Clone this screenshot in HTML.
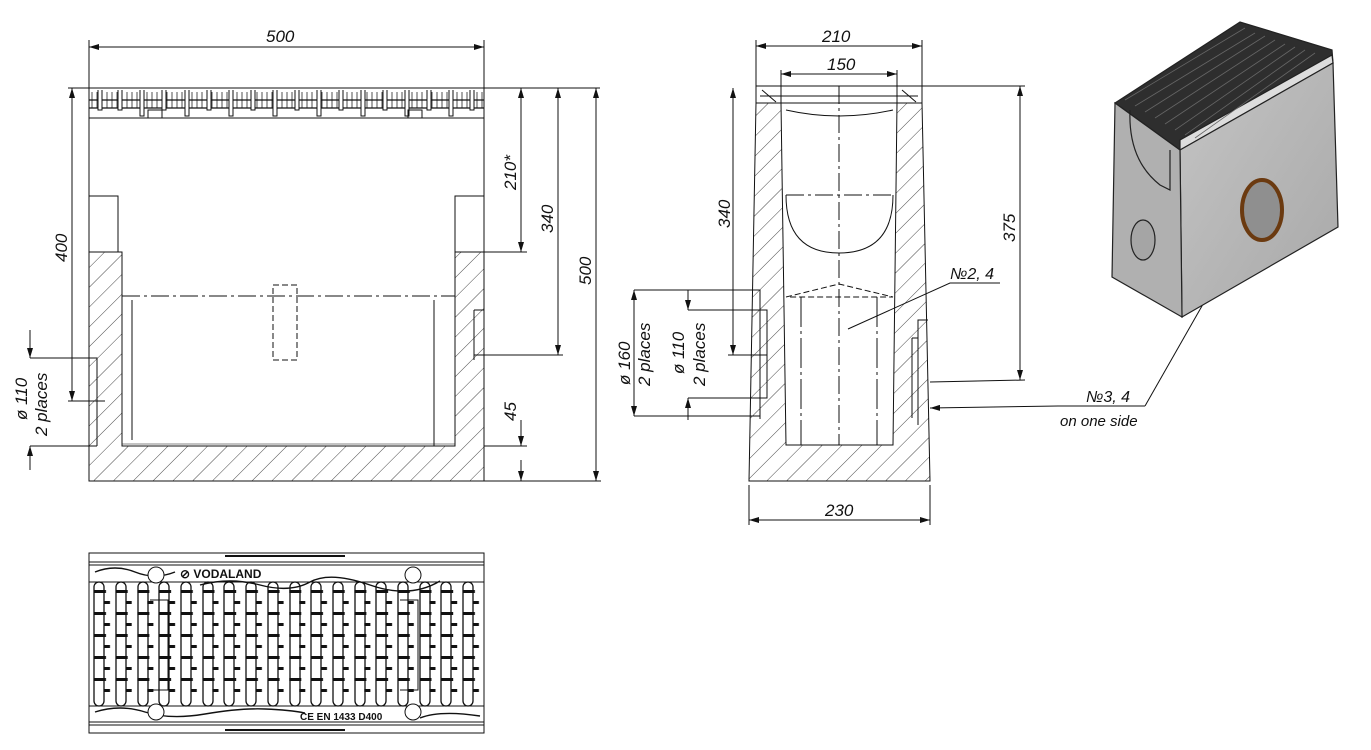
<!DOCTYPE html>
<html><head><meta charset="utf-8"><style>
html,body{margin:0;padding:0;background:#fff}
svg{display:block}
text{font-family:"Liberation Sans",sans-serif;font-style:italic;font-size:17px;fill:#111}
</style></head><body>
<svg width="1371" height="750" viewBox="0 0 1371 750" xmlns="http://www.w3.org/2000/svg">
<defs>
<pattern id="h" width="14" height="14" patternUnits="userSpaceOnUse" patternTransform="rotate(45)">
<line x1="0" y1="0" x2="0" y2="14" stroke="#333" stroke-width="0.9"/>
</pattern>
<pattern id="fine" width="5" height="10" patternUnits="userSpaceOnUse">
<line x1="2" y1="0" x2="2" y2="10" stroke="#222" stroke-width="0.8"/>
</pattern>
<pattern id="tick" width="21.7" height="22" patternUnits="userSpaceOnUse" x="94" y="590">
<rect x="-2" y="0" width="14" height="3" fill="#111"/>
<rect x="10" y="11" width="6" height="3" fill="#111"/>
</pattern>
<marker id="a" viewBox="0 0 10 6" refX="10" refY="3" markerWidth="10" markerHeight="6" orient="auto-start-reverse"><path d="M0,0 L10,3 L0,6z" fill="#111"/></marker>
<linearGradient id="g" x1="0" y1="0" x2="1" y2="1"><stop offset="0" stop-color="#c4c4c4"/><stop offset="1" stop-color="#a8a8a8"/></linearGradient>
</defs>
<g stroke="#111" stroke-width="1" fill="none">
<!-- LEFT VIEW -->
<rect x="89" y="88" width="395" height="393"/>
<path d="M89,252 H122 V446 H455 V252 H484 V481 H89Z" fill="url(#h)"/>
<path d="M89,196 H118 V252 M484,196 H455 V252"/>
<rect x="89" y="88" width="395" height="30" fill="#fff"/>
<rect x="89" y="92" width="395" height="16" fill="url(#fine)" stroke="none"/>
<g stroke-width="1.2">
<line x1="89" y1="100" x2="484" y2="100"/><line x1="89" y1="108" x2="484" y2="108"/>
</g>
<g fill="#fff">
<path d="M98,90 v20 h4 v-20 M118,90 v20 h4 v-20 M140,90 v26 h4 v-26 M162,90 v20 h4 v-20 M185,90 v26 h4 v-26 M207,90 v20 h4 v-20 M229,90 v26 h4 v-26 M251,90 v20 h4 v-20 M273,90 v26 h4 v-26 M295,90 v20 h4 v-20 M317,90 v26 h4 v-26 M339,90 v20 h4 v-20 M361,90 v26 h4 v-26 M383,90 v20 h4 v-20 M405,90 v26 h4 v-26 M427,90 v20 h4 v-20 M449,90 v26 h4 v-26 M470,90 v20 h4 v-20"/>
</g>
<rect x="148" y="110" width="14" height="8"/><rect x="408" y="110" width="14" height="8"/>
<path d="M122,298 V446 M434,300 V446 M455,300 V446 M132,300 V440"/>
<path d="M122,296 H455" stroke-dasharray="18,4,3,4"/>
<rect x="273" y="285" width="24" height="75" stroke-dasharray="6,3"/>
<path d="M89,358 H97 V446 M474,310 H484 M474,310 V360"/>
<path d="M122,444 H455" stroke-width="0.6"/>
<!-- dimensions left view -->
<line x1="89" y1="47" x2="484" y2="47" marker-start="url(#a)" marker-end="url(#a)"/>
<line x1="89" y1="40" x2="89" y2="88"/><line x1="484" y1="40" x2="484" y2="88"/>
<line x1="68" y1="88" x2="89" y2="88"/>
<line x1="72" y1="88" x2="72" y2="401" marker-start="url(#a)" marker-end="url(#a)"/>
<line x1="68" y1="401" x2="105" y2="401"/>
<line x1="30" y1="358" x2="97" y2="358"/><line x1="30" y1="446" x2="97" y2="446"/>
<line x1="30" y1="330" x2="30" y2="358" marker-end="url(#a)"/>
<line x1="30" y1="470" x2="30" y2="446" marker-end="url(#a)"/>
<line x1="484" y1="88" x2="600" y2="88"/>
<line x1="521" y1="88" x2="521" y2="252" marker-start="url(#a)" marker-end="url(#a)"/>
<line x1="484" y1="252" x2="527" y2="252"/>
<line x1="558" y1="88" x2="558" y2="355" marker-start="url(#a)" marker-end="url(#a)"/>
<line x1="474" y1="355" x2="563" y2="355"/>
<line x1="596" y1="88" x2="596" y2="481" marker-start="url(#a)" marker-end="url(#a)"/>
<line x1="484" y1="481" x2="601" y2="481"/>
<line x1="484" y1="446" x2="527" y2="446"/>
<line x1="521" y1="420" x2="521" y2="446" marker-end="url(#a)"/>
<line x1="521" y1="481" x2="521" y2="460" marker-start="url(#a)"/>

<!-- MIDDLE VIEW -->
<path d="M756,103 L749,481 H930 L922,103 H897 L893,445 H786 L781,103Z" fill="url(#h)"/>
<rect x="756" y="86" width="166" height="17" fill="#fff"/>
<path d="M781,103 V88 M897,103 V88 M760,96 H918 M786,110 Q839,122 893,110 M762,90 L776,102 M902,90 L916,102"/>
<path d="M839,86 V445 M786,195 H893" stroke-dasharray="18,4,3,4"/>
<path d="M786,195 Q786,253 839,253 Q893,253 893,195"/>
<path d="M786,297 L839,284 L893,297 H786" stroke-dasharray="6,3"/>
<path d="M801,297 V445 M877,297 V445" stroke-dasharray="30,4,3,4"/>
<path d="M753,290 H760 V419 M760,310 H767 V398 H760 M928,320 H918 V425 M912,338 H918 M912,338 V418"/>
<!-- middle dims -->
<line x1="756" y1="46" x2="922" y2="46" marker-start="url(#a)" marker-end="url(#a)"/>
<line x1="756" y1="40" x2="756" y2="86"/><line x1="922" y1="40" x2="922" y2="86"/>
<line x1="781" y1="74" x2="897" y2="74" marker-start="url(#a)" marker-end="url(#a)"/>
<line x1="781" y1="70" x2="781" y2="88"/><line x1="897" y1="70" x2="897" y2="88"/>
<line x1="733" y1="88" x2="733" y2="355" marker-start="url(#a)" marker-end="url(#a)"/>
<line x1="728" y1="355" x2="767" y2="355"/>
<line x1="922" y1="86" x2="1025" y2="86"/>
<line x1="1020" y1="86" x2="1020" y2="380" marker-start="url(#a)" marker-end="url(#a)"/>
<line x1="930" y1="382" x2="1025" y2="380"/>
<line x1="634" y1="290" x2="753" y2="290"/><line x1="634" y1="416" x2="760" y2="416"/>
<line x1="634" y1="290" x2="634" y2="416" marker-start="url(#a)" marker-end="url(#a)"/>
<line x1="688" y1="310" x2="760" y2="310"/><line x1="688" y1="398" x2="760" y2="398"/>
<line x1="688" y1="290" x2="688" y2="310" marker-end="url(#a)"/>
<line x1="688" y1="420" x2="688" y2="398" marker-end="url(#a)"/>
<line x1="749" y1="485" x2="749" y2="525"/><line x1="930" y1="485" x2="930" y2="525"/>
<line x1="749" y1="520" x2="930" y2="520" marker-start="url(#a)" marker-end="url(#a)"/>
<path d="M848,329 L950,283 H1000"/>
<path d="M1145,406 L1058,406 L930,408" marker-end="url(#a)"/>
<path d="M1145,406 L1235,248" />
<!-- BOTTOM GRATE -->
<rect x="89" y="553" width="395" height="180"/>
<path d="M89,562 H484 M89,565 H484 M89,722 H484 M89,725 H484 M89,582 H484 M89,706 H484"/>
<path d="M225,556 H345 M225,730 H345" stroke-width="2"/>
<path d="M95,572 q20,-8 40,0 t40,0 M200,585 q30,-8 60,0 t50,-3 t60,3 t70,-4 M95,712 q25,-8 50,0 t60,2 t60,-5 t40,4 M420,718 q20,-8 60,-2" stroke-width="1.4"/>
<rect x="89" y="588" width="395" height="112" fill="url(#tick)" stroke="none"/>
<circle cx="156" cy="575" r="8" fill="#fff"/><circle cx="413" cy="575" r="8" fill="#fff"/>
<circle cx="156" cy="712" r="8" fill="#fff"/><circle cx="413" cy="712" r="8" fill="#fff"/>
<g stroke-width="1.3">
<rect x="94" y="582" width="10" height="124" rx="5"/><rect x="116" y="582" width="10" height="124" rx="5"/>
<rect x="138" y="582" width="10" height="124" rx="5"/><rect x="159" y="582" width="10" height="124" rx="5"/>
<rect x="181" y="582" width="10" height="124" rx="5"/><rect x="203" y="582" width="10" height="124" rx="5"/>
<rect x="224" y="582" width="10" height="124" rx="5"/><rect x="246" y="582" width="10" height="124" rx="5"/>
<rect x="268" y="582" width="10" height="124" rx="5"/><rect x="290" y="582" width="10" height="124" rx="5"/>
<rect x="311" y="582" width="10" height="124" rx="5"/><rect x="333" y="582" width="10" height="124" rx="5"/>
<rect x="355" y="582" width="10" height="124" rx="5"/><rect x="376" y="582" width="10" height="124" rx="5"/>
<rect x="398" y="582" width="10" height="124" rx="5"/><rect x="420" y="582" width="10" height="124" rx="5"/>
<rect x="441" y="582" width="10" height="124" rx="5"/><rect x="463" y="582" width="10" height="124" rx="5"/>
</g>
<path d="M150,600 H168 V690 H150 M400,600 H418 V690 H400"/>
</g>
<text x="180" y="578" style="font-size:12px;font-weight:bold;font-style:normal">⊘ VODALAND</text>
<text x="300" y="720" style="font-size:10px;font-weight:bold;font-style:normal">CE EN 1433 D400</text>
<!-- ISO -->
<g stroke="#222" stroke-width="1.2">
<path d="M1115,103 L1240,22 L1332,50 L1333,63 L1180,150Z" fill="#2e2e2e"/>
<path d="M1180,140 L1332,55 L1333,63 L1180,150Z" fill="#ddd"/>
<path d="M1180,150 L1333,63 L1338,227 L1182,317Z" fill="url(#g)"/>
<path d="M1115,103 L1180,150 L1182,317 L1112,277Z" fill="#b0b0b0"/>
<path d="M1130,110 Q1128,160 1160,185 L1170,190 V150" fill="none"/>
<ellipse cx="1143" cy="240" rx="12" ry="20" fill="#a5a5a5"/>
<ellipse cx="1262" cy="210" rx="20" ry="30" fill="#8f8f8f" stroke="#6b3a10" stroke-width="4"/>
</g>
<g stroke="#666" stroke-width="0.8">
<path d="M1125,100 L1245,28 M1135,106 L1255,33 M1145,112 L1265,36 M1155,118 L1275,40 M1165,124 L1285,44 M1175,130 L1295,47 M1185,135 L1305,50 M1195,138 L1315,53"/>
</g>
<text x="266" y="42">500</text>
<text x="822" y="42">210</text>
<text x="827" y="70">150</text>
<text x="825" y="516">230</text>
<text x="1060" y="426" style="font-size:15px">on one side</text>
<text x="1086" y="402" style="font-size:16px">№3, 4</text>
<text x="950" y="279" style="font-size:16px">№2, 4</text>
<text transform="translate(67,262) rotate(-90)">400</text>
<text transform="translate(516,190) rotate(-90)">210*</text>
<text transform="translate(553,233) rotate(-90)">340</text>
<text transform="translate(591,285) rotate(-90)">500</text>
<text transform="translate(516,421) rotate(-90)">45</text>
<text transform="translate(27,420) rotate(-90)">ø 110</text>
<text transform="translate(47,436) rotate(-90)">2 places</text>
<text transform="translate(730,228) rotate(-90)">340</text>
<text transform="translate(1015,242) rotate(-90)">375</text>
<text transform="translate(630,385) rotate(-90)">ø 160</text>
<text transform="translate(650,386) rotate(-90)">2 places</text>
<text transform="translate(684,374) rotate(-90)">ø 110</text>
<text transform="translate(705,386) rotate(-90)">2 places</text>
</svg>
</body></html>
